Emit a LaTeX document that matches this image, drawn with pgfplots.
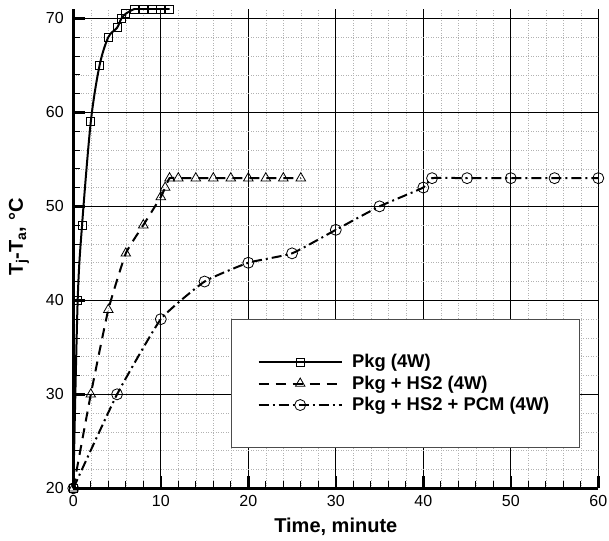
\documentclass[border=0pt]{standalone}
\usepackage{fontspec}
\setmainfont{Liberation Sans}
\usepackage{pgfplots}
\pgfplotsset{compat=1.18}
\pgfdeclareplotmark{codot}{%
  \pgfpathcircle{\pgfpointorigin}{\pgfplotmarksize}\pgfusepathqstroke
  \pgfpathcircle{\pgfpointorigin}{0.8pt}\pgfusepathqfill}
\begin{document}
\begin{tikzpicture}
\begin{axis}[
  at={(73.3pt,51.7pt)}, anchor=south west,
  scale only axis, width=525pt, height=479.3pt,
  xmin=0, xmax=60, ymin=20, ymax=71,
  xtick={0,10,...,60}, ytick={20,30,...,70},
  minor x tick num=4, minor y tick num=4,
  axis x line=bottom, axis y line=left,
  axis line style={-, line width=2.5pt},
  tick align=inside,
  major tick length=12pt, minor tick length=7pt,
  major tick style={line width=2.5pt, black},
  minor tick style={line width=0.8pt, black},
  grid=both,
  major grid style={line width=0.8pt, black},
  minor grid style={line width=0.5pt, gray!60, dotted},
  /pgf/number format/assume math mode=true,
  tick label style={font=\fontsize{16}{18}\selectfont},
  yticklabel style={xshift=-6pt},
  xticklabel style={yshift=-3pt},
  xlabel={\textbf{Time, minute}},
  ylabel={\textbf{T\textsubscript{j}-T\textsubscript{a}, °C}},
  label style={font=\fontsize{20}{22}\selectfont},
  xlabel style={at={(axis description cs:0.5,-0.0807)}, anchor=center},
  ylabel style={at={(axis description cs:-0.1034,0.524)}, anchor=center},
  legend cell align=left,
  legend style={at={(axis cs:18,38)}, anchor=north west,
    draw=black!70, line width=0.8pt, fill=white,
    minimum width=348pt, minimum height=128pt,
    nodes={minimum width=0pt, minimum height=0pt, inner sep=0.3333em, line width=0.8pt},
    column sep=6pt,
    font=\bfseries\fontsize{18.4}{22.5}\selectfont, row sep=0pt},
  legend image code/.code={\draw[mark repeat=2,mark phase=2,#1] plot coordinates {(0pt,0pt) (41.5pt,0pt) (83pt,0pt)};},
]
\addplot[black, line width=2pt, smooth, tension=0.5, mark=square, mark size=4pt,
  mark options={solid, line width=0.8pt}] coordinates {
 (0,20) (0.5,40) (1,48) (2,59) (3,65) (4,68) (5,69) (5.5,70) (6,70.5) (7,71) (8,71) (9,71) (10,71) (11,71)};
\addlegendentry{Pkg (4W)}
\addplot[black, line width=2pt, smooth, tension=0.25, dash pattern=on 10pt off 7pt, mark=triangle, mark size=5.5pt,
  mark options={solid, line width=0.8pt}] coordinates {
 (0,20) (2,30) (4,39) (6,45) (8,48) (10,51) (10.5,52) (11,53) (12,53) (14,53) (16,53) (18,53) (20,53) (22,53) (24,53) (26,53)};
\addlegendentry{Pkg + HS2 (4W)}
\addplot[black, line width=2pt, smooth, tension=0.25, dash pattern=on 10pt off 4pt on 2pt off 4pt, mark=codot, mark size=5.5pt,
  mark options={solid, line width=0.8pt}] coordinates {
 (0,20) (5,30) (10,38) (15,42) (20,44) (25,45) (30,47.5) (35,50) (40,52) (41,53) (45,53) (50,53) (55,53) (60,53)};
\addlegendentry{Pkg + HS2 + PCM (4W)}
\end{axis}
\pgfresetboundingbox
\useasboundingbox (0,0) rectangle (609pt,540pt);
\end{tikzpicture}
\end{document}
